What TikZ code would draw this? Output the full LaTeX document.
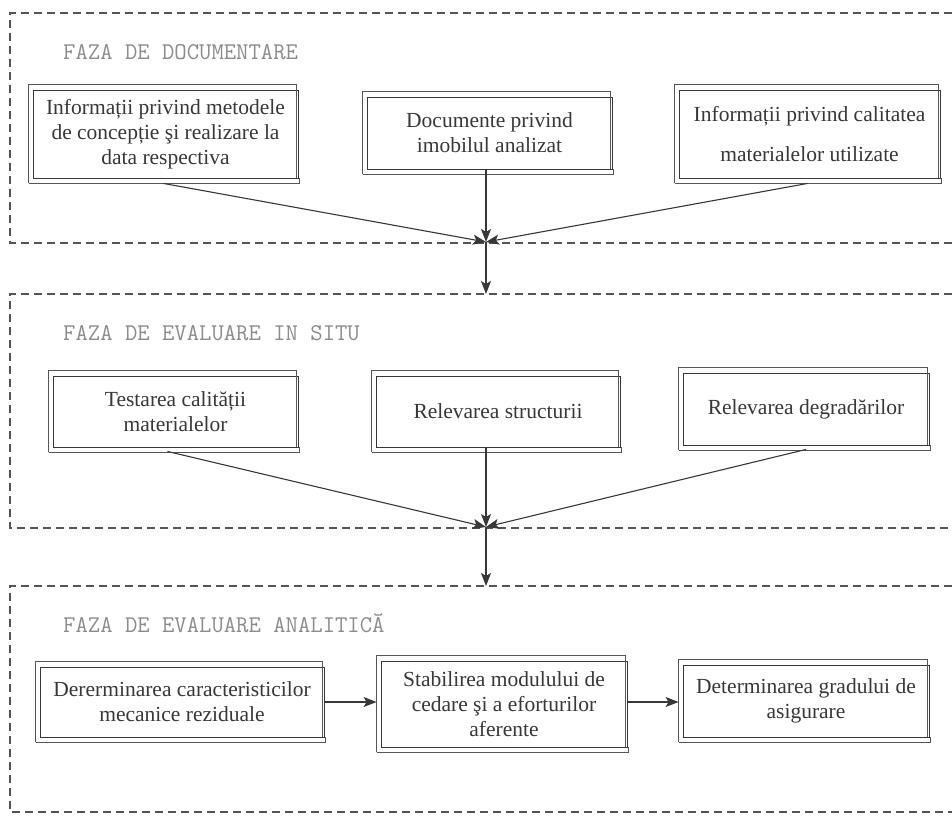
\documentclass[tikz,border=0pt]{standalone}
\usepackage{fontspec}
\setmainfont{Liberation Serif}
\usetikzlibrary{arrows.meta,calc}
\definecolor{ink}{HTML}{383838}
\definecolor{frameink}{HTML}{555555}
\definecolor{titleink}{HTML}{8C8C8C}
\begin{document}
\begin{tikzpicture}[x=1pt,y=-1pt,
  stagebox/.style={draw=ink, line width=0.9pt, rectangle, inner sep=0pt, align=center, text=ink,
    font=\fontsize{21.5}{25}\selectfont},
  boxframe/.style={draw=ink!85, line width=0.8pt},
  phase/.style={draw=frameink, line width=1.2pt, dash pattern=on 8pt off 5pt},
  phasetitle/.style={anchor=west, inner sep=0pt, text=titleink, font=\ttfamily\fontsize{24}{26}\selectfont},
  flow/.style={draw=ink, line width=1.1pt, -{Stealth[length=13pt,width=10pt,inset=3pt]}},
]
\useasboundingbox[fill=white] (0,0) rectangle (952,818);

% phase frames (open on the right, cut by the page edge)
\coordinate (f1a) at (952,13);  \coordinate (f1b) at (10,13);
\coordinate (f1c) at (10,243);  \coordinate (f1d) at (952,243);
\coordinate (f2a) at (952,294); \coordinate (f2b) at (10,294);
\coordinate (f2c) at (10,528);  \coordinate (f2d) at (952,528);
\coordinate (f3a) at (952,586); \coordinate (f3b) at (10,586);
\coordinate (f3c) at (10,812);  \coordinate (f3d) at (952,812);
\draw[phase] (f1a) -- (f1b) -- (f1c) -- (f1d);
\draw[phase] (f2a) -- (f2b) -- (f2c) -- (f2d);
\draw[phase] (f3a) -- (f3b) -- (f3c) -- (f3d);

% phase titles
\node[phasetitle] (t1) at (63,52) {FAZA DE DOCUMENTARE};
\node[phasetitle] (t2) at (63,333) {FAZA DE EVALUARE IN SITU};
\node[phasetitle] (t3) at (63,623) {FAZA DE EVALUARE ANALITICĂ};

% row 1
\node[stagebox, minimum width=265pt, minimum height=88pt] (b1) at (165.5,134)
  {Informații privind metodele\\de concepție şi realizare la\\data respectiva};
\node[stagebox, minimum width=245pt, minimum height=72pt] (b2) at (489.5,133)
  {Documente privind\\imobilul analizat};
\node[stagebox, minimum width=261pt, minimum height=88pt] (b3) at (809.5,134)
  {Informații privind calitatea\\[15pt]materialelor utilizate};

% row 2
\node[stagebox, minimum width=245pt, minimum height=71pt] (c1) at (175.5,411.5)
  {Testarea calității\\materialelor};
\node[stagebox, minimum width=244pt, minimum height=71pt] (c2) at (498,411.5)
  {Relevarea structurii};
\node[stagebox, minimum width=246pt, minimum height=72pt] (c3) at (806,409)
  {Relevarea degradărilor};

% row 3
\node[stagebox, minimum width=284pt, minimum height=70pt] (d1) at (182,702)
  {Dererminarea caracteristicilor\\mecanice reziduale};
\node[stagebox, minimum width=246pt, minimum height=86pt] (d2) at (504,704)
  {Stabilirea modulului de\\cedare şi a eforturilor\\aferente};
\node[stagebox, minimum width=246pt, minimum height=72pt] (d3) at (806,701)
  {Determinarea gradului de\\asigurare};

% double frames of the boxes
\foreach \n in {b1,b2,b3,c1,c2,c3,d1,d2,d3}{
  \draw[boxframe] ($(\n.south west)+(-4,5)$) -- ($(\n.north west)+(-4,-5)$)
    -- ($(\n.north east)+(-2,-5)$) -- ($(\n.south east)+(-2,0)$);
  \draw[boxframe] ($(\n.south west)+(-4,5)$) -- ($(\n.south east)+(1,5)$)
    -- ($(\n.south east)+(1,0)$);
}

% convergence points
\coordinate (m1) at (486,242);
\coordinate (e2) at (486,294);
\coordinate (m2) at (486,527);
\coordinate (e3) at (486,586);

% connectors, phase 1
\draw[flow] ($(b1.south)+(-2,5)$) -- (m1);
\draw[flow] (b2.south -| m1) -- (m1);
\draw[flow] ($(b3.south)+(-2,5)$) -- (m1);
\draw[flow] (m1) -- (e2);

% connectors, phase 2
\draw[flow] ($(c1.south)+(-8,4)$) -- (m2);
\draw[flow] (c2.south -| m2) -- (m2);
\draw[flow] ($(c3.south)+(0,4)$) -- (m2);
\draw[flow] (m2) -- (e3);

% connectors, phase 3
\draw[flow] (d1.east) -- ($(d1.east -| d2.west)+(-4,0)$);
\draw[flow] (d2.east |- d1.east) -- ($(d1.east -| d3.west)+(-4,0)$);
\end{tikzpicture}
\end{document}
